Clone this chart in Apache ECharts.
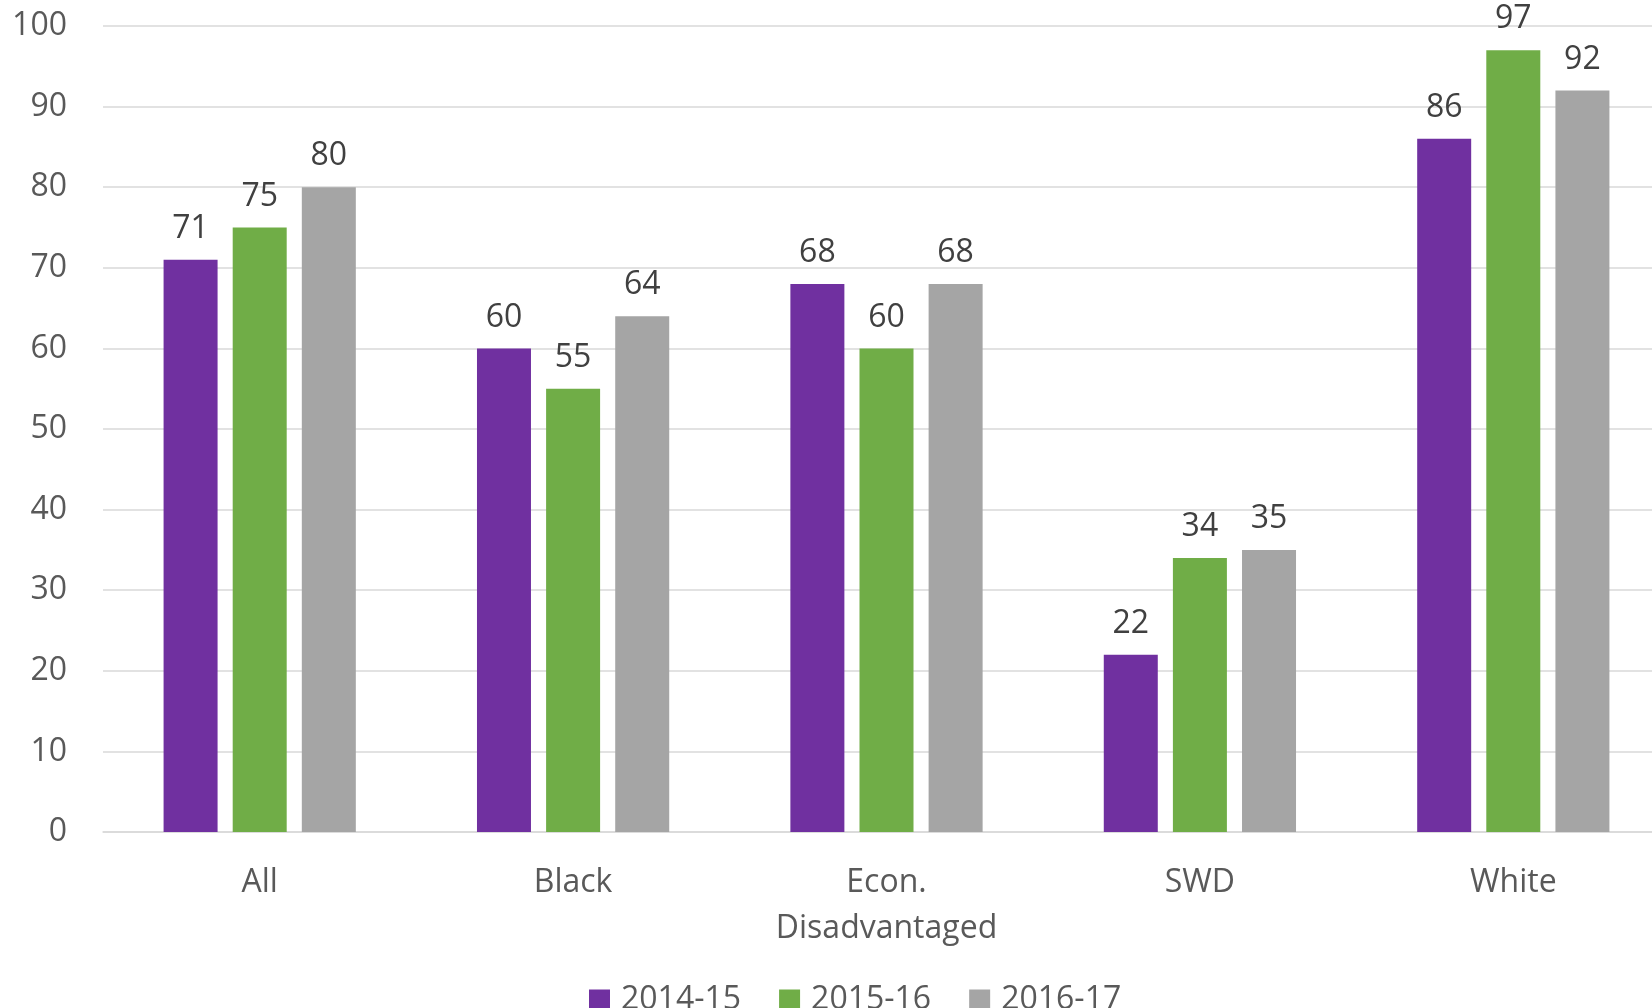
<!DOCTYPE html>
<html>
<head>
<meta charset="utf-8">
<script src="https://cdn.jsdelivr.net/npm/echarts@6/dist/echarts.min.js"></script>
<style>
  html, body { margin: 0; padding: 0; background: #fff; overflow: hidden; }
  /* the last category runs a bit past the picture edge, so the canvas is wider than the window */
  #chart { width: 1670px; height: 1008px; }
</style>
</head>
<body>
<div id="chart"></div>
<script>
  const categories = ['All', 'Black', 'Econ.\nDisadvantaged', 'SWD', 'White']
  const years = ['2014-15', '2015-16', '2016-17']
  const data1415 = [71, 60, 68, 22, 86]
  const data1516 = [75, 55, 60, 34, 97]
  const data1617 = [80, 64, 68, 35, 92]
  const yTicks = [0, 10, 20, 30, 40, 50, 60, 70, 80, 90, 100]

  const colors = ['#7030a0', '#70ad47', '#a5a5a5']
  const font = '"Open Sans", sans-serif'

  const chart = echarts.init(document.getElementById('chart'))

  function barSeries(name, data) {
    return {
      name: name,
      type: 'bar',
      barWidth: 54,
      barGap: '28%',
      label: {
        show: true,
        position: 'top',
        distance: 15,
        fontFamily: font,
        fontSize: 32,
        color: '#404040'
      },
      data: data
    }
  }

  chart.setOption({
    animation: false,
    color: colors,
    textStyle: { fontFamily: font },
    grid: {
      top: 26,
      bottom: 176,
      left: 103,
      right: 0
    },
    legend: {
      top: 979,
      left: 584,
      itemWidth: 21,
      itemHeight: 21,
      itemGap: 38,
      icon: 'rect',
      textStyle: {
        fontFamily: font,
        fontSize: 32,
        lineHeight: 32,
        color: '#595959',
        padding: [0, 0, 0, 6]
      },
      data: years
    },
    xAxis: {
      type: 'category',
      data: categories,
      axisTick: { show: false },
      axisLine: { lineStyle: { color: '#d9d9d9', width: 1.5 } },
      axisLabel: {
        fontFamily: font,
        fontSize: 32,
        color: '#595959',
        lineHeight: 46,
        margin: 28
      }
    },
    yAxis: {
      type: 'value',
      min: yTicks[0],
      max: yTicks[yTicks.length - 1],
      interval: 10,
      axisLine: { show: false },
      axisTick: { show: false },
      axisLabel: {
        fontFamily: font,
        fontSize: 32,
        color: '#595959',
        margin: 36
      },
      splitLine: { lineStyle: { color: '#d9d9d9', width: 1.5 } }
    },
    series: [
      barSeries(years[0], data1415),
      barSeries(years[1], data1516),
      barSeries(years[2], data1617)
    ]
  })
</script>
</body>
</html>
